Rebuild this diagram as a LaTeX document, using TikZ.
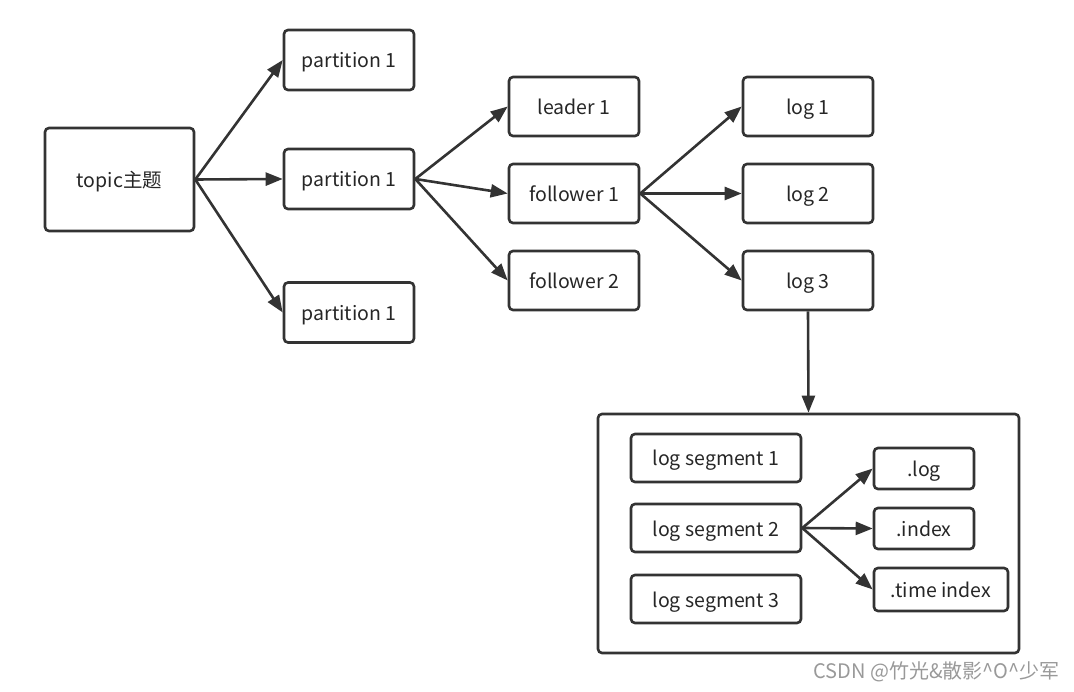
\documentclass[tikz,border=0pt]{standalone}
\usepackage{fontspec}
\setmainfont{Noto Sans CJK SC}
\usetikzlibrary{arrows.meta}
\definecolor{ink}{HTML}{333333}
\tikzset{
  box/.style={draw=ink, line width=2.6pt, rounded corners=4pt, fill=white, text=black!85,
    inner sep=0pt, text height=19pt, text depth=3pt, font=\fontsize{19.5}{21}\selectfont},
  conn/.style={draw=ink, line width=2.6pt, -{Triangle[length=17pt,width=13pt]}},
}
\begin{document}
\begin{tikzpicture}[x=1pt,y=-1pt]
\useasboundingbox (0,0) rectangle (1074,692);
\node[box, minimum width=149pt, minimum height=103pt] (topic) at (119.5,179.5) {topic主题};
\node[box, minimum width=130pt, minimum height=60pt] (p1) at (349,60) {partition 1};
\node[box, minimum width=130pt, minimum height=60pt] (p2) at (349,179) {partition 1};
\node[box, minimum width=130pt, minimum height=60pt] (p3) at (349,312.5) {partition 1};
\node[box, minimum width=130pt, minimum height=59pt] (lead) at (574,106.5) {leader 1};
\node[box, minimum width=130pt, minimum height=59pt] (f1) at (574,193.5) {follower 1};
\node[box, minimum width=130pt, minimum height=59pt] (f2) at (574,280.5) {follower 2};
\node[box, minimum width=130pt, minimum height=59pt] (l1) at (808,106.5) {log 1};
\node[box, minimum width=130pt, minimum height=59pt] (l2) at (808,193.5) {log 2};
\node[box, minimum width=130pt, minimum height=59pt] (l3) at (808,280.5) {log 3};
\node[box, minimum width=421pt, minimum height=239pt] (seg) at (808.5,533.5) {};
\node[box, minimum width=170pt, minimum height=48pt] (s1) at (716,458) {log segment 1};
\node[box, minimum width=170pt, minimum height=48pt] (s2) at (716,528) {log segment 2};
\node[box, minimum width=170pt, minimum height=48pt] (s3) at (716,599) {log segment 3};
\node[box, minimum width=100pt, minimum height=41pt] (flog) at (924,468.5) {.log};
\node[box, minimum width=100pt, minimum height=41pt] (fidx) at (924,528.5) {.index};
\node[box, minimum width=134pt, minimum height=43pt] (ftim) at (941,589.5) {.time index};
\node[anchor=east, text=black!40, inner sep=0pt, font=\fontsize{20}{22}\selectfont] (wm) at (1060,672) {CSDN @竹光\&散影\^{}O\^{}少军};
\draw[conn] (topic.east) -- (p1.west);
\draw[conn] (topic.east) -- (p2.west);
\draw[conn] (topic.east) -- (p3.west);
\draw[conn] (p2.east) -- (lead.west);
\draw[conn] (p2.east) -- (f1.west);
\draw[conn] (p2.east) -- (f2.west);
\draw[conn] (f1.east) -- (l1.west);
\draw[conn] (f1.east) -- (l2.west);
\draw[conn] (f1.east) -- (l3.west);
\draw[conn] (l3.south) -- (seg.north);
\draw[conn] (s2.east) -- (flog.west);
\draw[conn] (s2.east) -- (fidx.west);
\draw[conn] (s2.east) -- (ftim.west);
\end{tikzpicture}
\end{document}
